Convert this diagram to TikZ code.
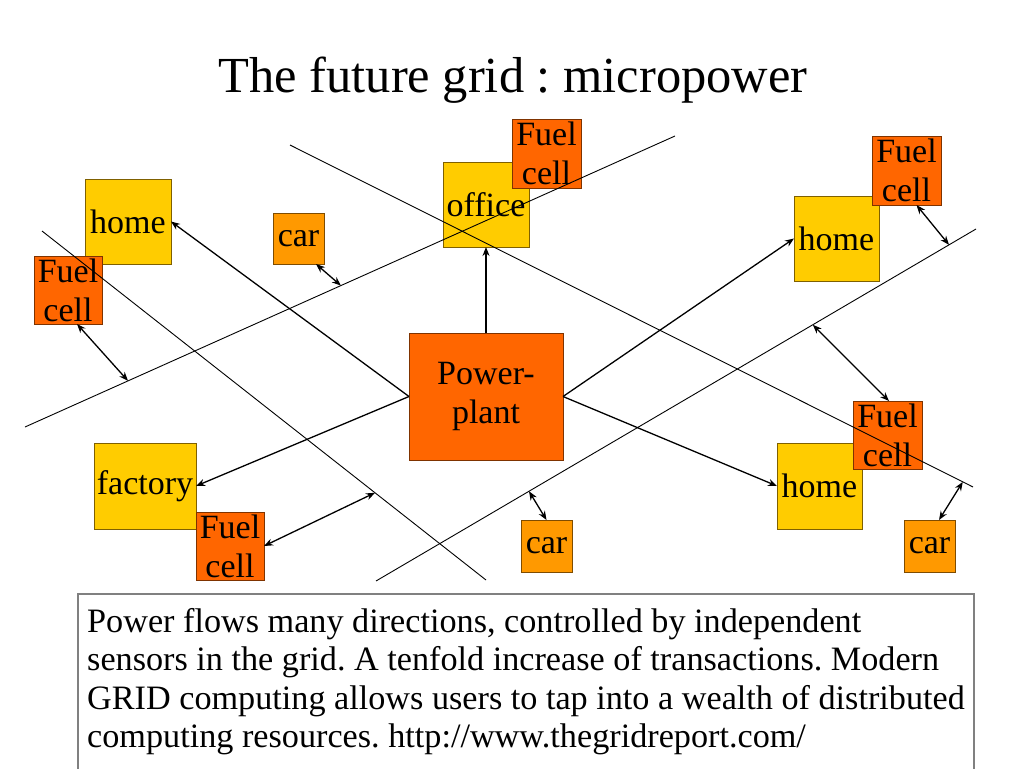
\documentclass[tikz,border=0pt]{standalone}
\usepackage{fontspec}
\setmainfont{Liberation Serif}
\usetikzlibrary{arrows.meta,calc}
\definecolor{yfill}{HTML}{FFCC00}
\definecolor{yline}{HTML}{7F6000}
\definecolor{ofill}{HTML}{FF6600}
\definecolor{oline}{HTML}{7F3300}
\definecolor{cfill}{HTML}{FF9900}
\definecolor{cline}{HTML}{7F4C00}
\definecolor{tline}{HTML}{808080}
\begin{document}
\frenchspacing
\begin{tikzpicture}[x=1pt,y=-1pt,
  box/.style={rectangle,inner sep=0pt,outer sep=0pt,align=center,font={\fontsize{34}{39}\selectfont},line width=1pt},
  ybox/.style={box,fill=yfill,draw=yline},
  obox/.style={box,fill=ofill,draw=oline},
  cbox/.style={box,fill=cfill,draw=cline},
  gridline/.style={line width=0.9pt},
  flow/.style={line width=1.3pt,-{Stealth[length=9pt,width=7pt]}},
  dbl/.style={line width=1.3pt,{Stealth[length=9pt,width=7pt]}-{Stealth[length=9pt,width=7pt]}}]
\useasboundingbox (0,0) rectangle (1024,768);
\fill[white] (0,0) rectangle (1024,768);
% title
\node[anchor=base,inner sep=0pt,font={\fontsize{50.5}{60}\selectfont}] (title) at (513,92) {The future grid : micropower};
% boxes
\node[ybox,minimum width=86,minimum height=85] (home1) at (128,221.5) {home};
\node[obox,minimum width=68,minimum height=68] (fc1) at (68,290) {Fuel\\cell};
\node[cbox,minimum width=51,minimum height=51] (car1) at (298.5,238.5) {car};
\node[ybox,minimum width=86,minimum height=85] (office) at (486,204.5) {office};
\node[obox,minimum width=69,minimum height=69] (fc2) at (546.5,153.5) {Fuel\\cell};
\node[ybox,minimum width=85,minimum height=85] (home2) at (836.5,238.5) {home};
\node[obox,minimum width=69,minimum height=69] (fc3) at (906.5,170.5) {Fuel\\cell};
\node[obox,minimum width=154,minimum height=127] (plant) at (486,396.5) {Power-\\plant};
\node[ybox,minimum width=102,minimum height=86] (factory) at (145,486) {factory};
\node[obox,minimum width=68,minimum height=68] (fc4) at (230,546) {Fuel\\cell};
\node[ybox,minimum width=85,minimum height=86] (home3) at (819.5,486) {home};
\node[obox,minimum width=69,minimum height=68] (fc5) at (887.5,435) {Fuel\\cell};
\node[cbox,minimum width=51,minimum height=52] (car2) at (546.5,546) {car};
\node[cbox,minimum width=51,minimum height=52] (car3) at (929.5,546) {car};
% grid lines
\coordinate (la1) at (42,231);  \coordinate (la2) at (486,580);
\coordinate (lb1) at (25,427);  \coordinate (lb2) at (675,136);
\coordinate (lc1) at (290,145); \coordinate (lc2) at (973,487);
\coordinate (ld1) at (376,581); \coordinate (ld2) at (976,229);
\draw[gridline] (la1) -- (la2);
\draw[gridline] (lb1) -- (lb2);
\draw[gridline] (lc1) -- (lc2);
\draw[gridline] (ld1) -- (ld2);
% power flows
\draw[flow] (plant.north) -- (office.south);
\draw[flow] (plant.west) -- (home1.east);
\draw[flow] (plant.west) -- (factory.east);
\draw[flow] (plant.east) -- (home2.west);
\draw[flow] (plant.east) -- (home3.west);
% exchanges with the grid
\coordinate (p1) at ($(lb1)!0.1585!(lb2)$);
\coordinate (p2) at ($(lb1)!0.486!(lb2)$);
\coordinate (p3) at ($(la1)!0.75!(la2)$);
\coordinate (p4) at ($(ld1)!0.255!(ld2)$);
\coordinate (p5) at ($(lc1)!0.985!(lc2)$);
\coordinate (p6) at ($(ld1)!0.728!(ld2)$);
\coordinate (p7) at ($(ld1)!0.955!(ld2)$);
\draw[dbl] ($(fc1.south)+(9,0)$) -- (p1);
\draw[dbl] ($(car1.south)+(17.5,0)$) -- (p2);
\draw[dbl] (fc4.east) -- (p3);
\draw[dbl] (car2.north) -- (p4);
\draw[dbl] ($(car3.north)+(9.5,0)$) -- (p5);
\draw[dbl] ($(fc5.north)+(1.5,0)$) -- (p6);
\draw[dbl] ($(fc3.south)+(10,0)$) -- (p7);
% text box
\node[draw=tline,line width=1.5pt,fill=white,anchor=north west,minimum width=896,minimum height=200,inner sep=0pt] (tbox) at (77,593) {};
\node[anchor=north west,inner sep=0pt,align=left,font={\fontsize{34.2}{38.5}\selectfont\frenchspacing}] (ttext) at (87,608)
 {Power flows many directions, controlled by independent\\
  sensors in the grid. A tenfold increase of transactions. Modern\\
  GRID computing allows users to tap into a wealth of distributed\\
  computing resources. http://www.thegridreport.com/};
\end{tikzpicture}
\end{document}
